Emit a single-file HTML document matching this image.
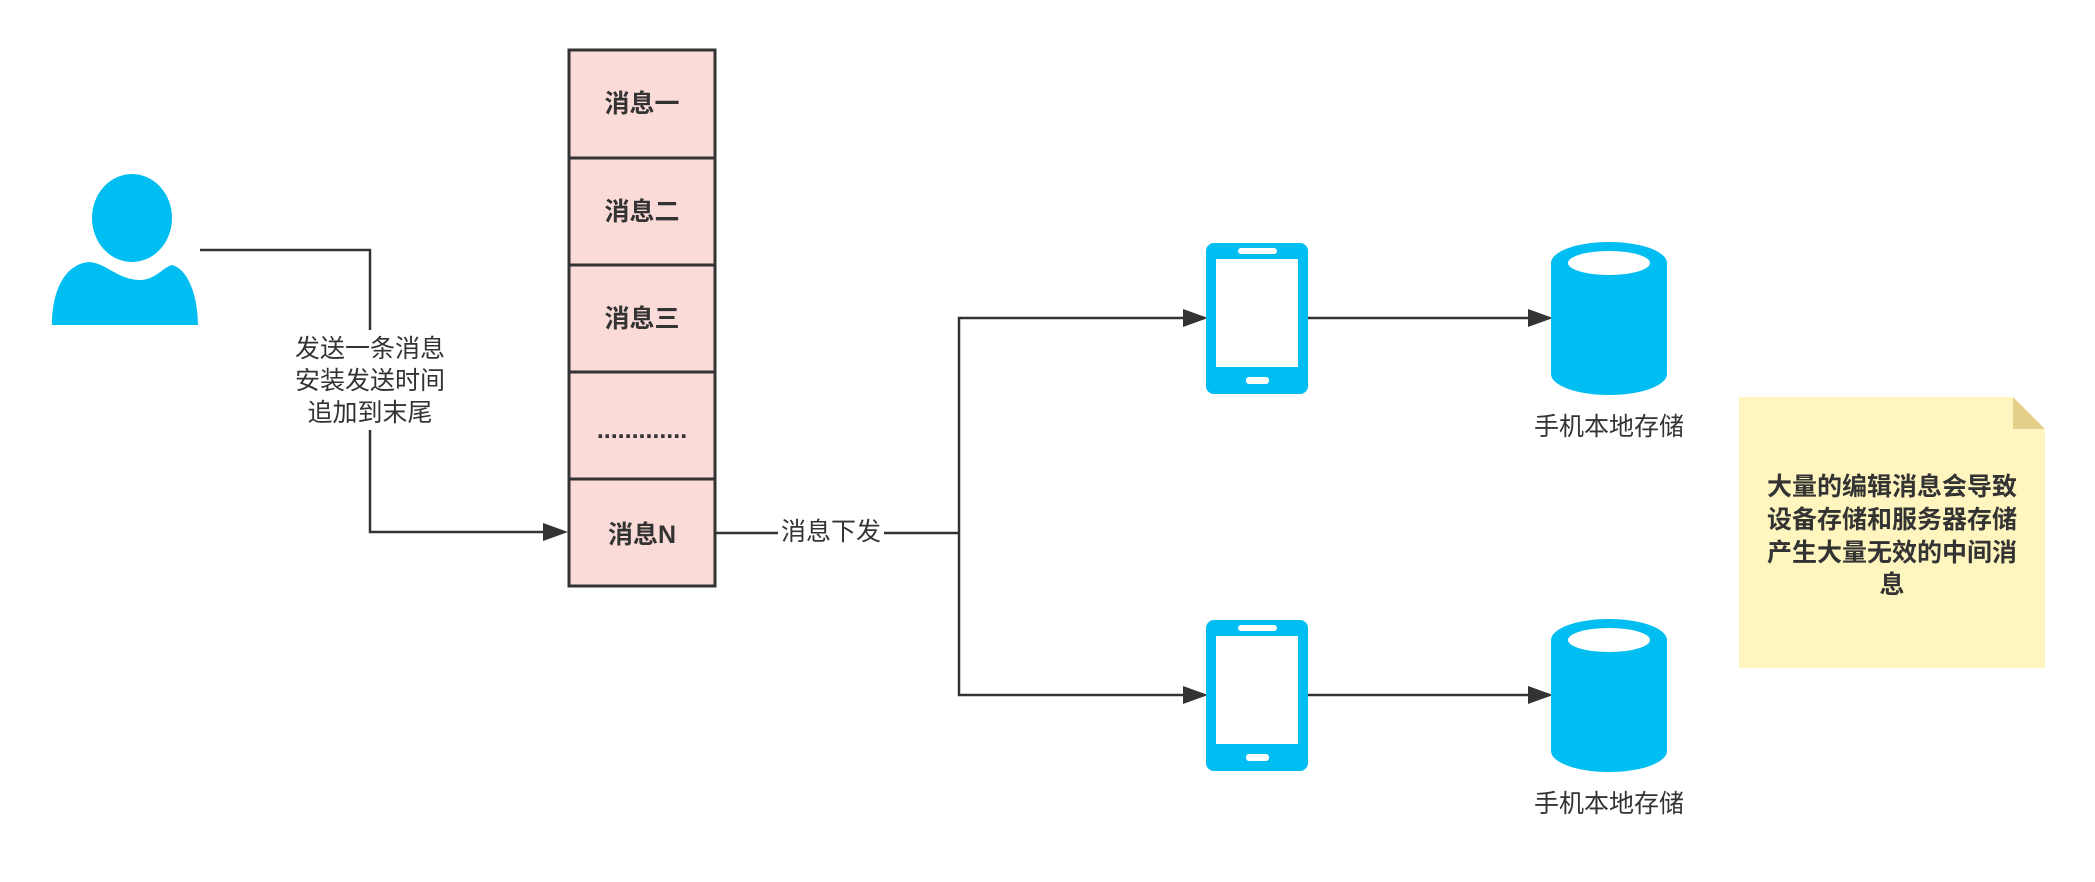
<!DOCTYPE html>
<html><head><meta charset="utf-8"><style>
html,body{margin:0;padding:0;background:#fff;}
svg{display:block;}
text{font-family:"Liberation Sans","Noto Sans CJK SC",sans-serif;fill:#333;font-size:25px;text-anchor:middle;dominant-baseline:central;}
.b{font-weight:bold;}
</style></head><body>
<svg width="2095" height="882" viewBox="0 0 2095 882" xmlns="http://www.w3.org/2000/svg">
<defs>
<marker id="a" markerWidth="10" markerHeight="8" refX="9.5" refY="4" orient="auto" markerUnits="userSpaceOnUse" viewBox="0 0 10 8">
</marker>
</defs>
<!-- user -->
<ellipse cx="132" cy="218" rx="40" ry="44" fill="#00BEF2"/>
<path d="M52,325 C52,290 65,265 88,262 C105,262 118,280 140,280 C155,280 162,268 172,265 C190,270 198,300 198,325 Z" fill="#00BEF2"/>
<!-- user connector -->
<polyline points="200,250 370,250 370,532 545,532" fill="none" stroke="#333" stroke-width="2.5"/>
<polygon points="568,532 543,523 543,541" fill="#333"/>
<rect x="285" y="330" width="170" height="100" fill="#fff"/>
<text x="370" y="349">发送一条消息</text>
<text x="370" y="381">安装发送时间</text>
<text x="370" y="413">追加到末尾</text>
<!-- stack -->
<g stroke="#333" stroke-width="3" fill="#FADBD8">
<rect x="569" y="50" width="146" height="108"/>
<rect x="569" y="158" width="146" height="107"/>
<rect x="569" y="265" width="146" height="107"/>
<rect x="569" y="372" width="146" height="107"/>
<rect x="569" y="479" width="146" height="107"/>
</g>
<text class="b" x="642" y="104">消息一</text>
<text class="b" x="642" y="212">消息二</text>
<text class="b" x="642" y="319">消息三</text>
<text class="b" x="642" y="430">.............</text>
<text class="b" x="642" y="535">消息N</text>
<!-- distribution -->
<polyline points="715,533 959,533" fill="none" stroke="#333" stroke-width="2.5"/>
<polyline points="1185,318 959,318 959,695 1185,695" fill="none" stroke="#333" stroke-width="2.5"/>
<rect x="778" y="515" width="106" height="36" fill="#fff"/>
<text x="831" y="532">消息下发</text>
<polygon points="1208,318 1183,309 1183,327" fill="#333"/>
<polygon points="1208,695 1183,686 1183,704" fill="#333"/>
<!-- phones -->
<g id="ph">
<rect x="1206" y="243" width="102" height="151" rx="8" fill="#00BEF2"/>
<rect x="1216" y="259" width="82" height="108" fill="#fff"/>
<rect x="1238" y="248" width="39" height="6" rx="3" fill="#fff"/>
<rect x="1246" y="377" width="23" height="7" rx="3" fill="#fff"/>
<line x1="1308" y1="318" x2="1530" y2="318" stroke="#333" stroke-width="2.5"/>
<polygon points="1553,318 1528,309 1528,327" fill="#333"/>
<path d="M1551,263 A58,21 0 0 1 1667,263 L1667,374 A58,21 0 0 1 1551,374 Z" fill="#00BEF2"/>
<ellipse cx="1609" cy="263" rx="41" ry="12" fill="#fff"/>
<text x="1609" y="427">手机本地存储</text>
</g>
<use href="#ph" transform="translate(0,377)"/>
<!-- note -->
<path d="M1739,397 L2013,397 L2045,429 L2045,668 L1739,668 Z" fill="#FFF5BF"/>
<path d="M2013,397 L2045,429 L2013,429 Z" fill="#E3CF8A"/>
<text class="b" x="1892" y="487">大量的编辑消息会导致</text>
<text class="b" x="1892" y="520">设备存储和服务器存储</text>
<text class="b" x="1892" y="553">产生大量无效的中间消</text>
<text class="b" x="1892" y="585">息</text>
</svg>
</body></html>
